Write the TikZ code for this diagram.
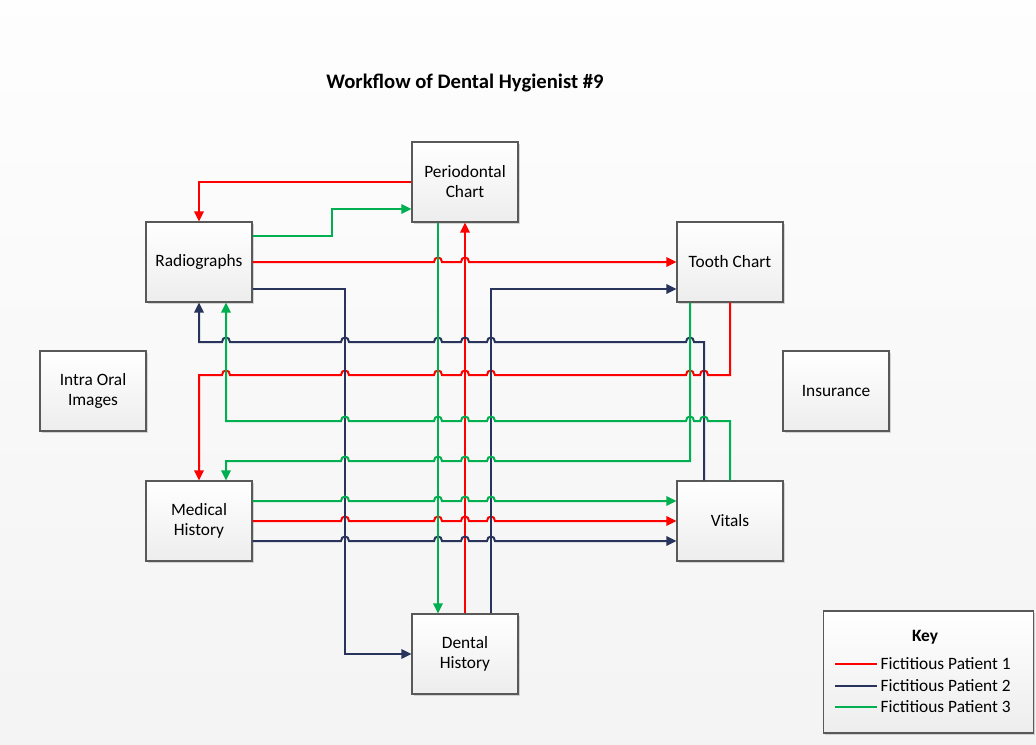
\documentclass[tikz,border=0pt]{standalone}
\usepackage{fontspec}
\setmainfont{Carlito}
\usetikzlibrary{arrows.meta,calc,shadows}
\definecolor{ptred}{RGB}{255,0,0}
\definecolor{ptnavy}{RGB}{40,52,92}
\definecolor{ptgreen}{RGB}{0,176,80}
% line hops over crossing lanes (right- and left-going)
\newcommand{\hopR}[2]{-- (#1-4,#2) .. controls (#1-4,#2-6) and (#1+4,#2-6) .. (#1+4,#2)}
\newcommand{\hopL}[2]{-- (#1+4,#2) .. controls (#1+4,#2-6) and (#1-4,#2-6) .. (#1-4,#2)}
\begin{document}
\begin{tikzpicture}[x=0.75pt,y=-0.75pt,
    box/.style={draw=gray!70!black,line width=0.8pt,top color=white,bottom color=gray!14,
      minimum width=79.5pt,minimum height=60pt,align=center,inner sep=1pt,
      font=\fontsize{13}{15}\selectfont,
      drop shadow={shadow xshift=1.2pt,shadow yshift=-1.2pt,opacity=0.3,fill=gray}},
    keytext/.style={right,inner sep=2pt,text=black,font=\fontsize{13}{15}\selectfont},
    p1/.style={ptred,line width=1.5pt},
    p2/.style={ptnavy,line width=1.5pt},
    p3/.style={ptgreen,line width=1.5pt},
    arr/.style={-{Triangle[length=7.5pt,width=7pt]}}]
  \useasboundingbox (0,0) rectangle (1036,744);
  \shade[top color=gray!1,bottom color=gray!9] (0,0) rectangle (1036,744);

  \node[font=\bfseries\fontsize{15.5}{18}\selectfont] (title) at (465,83) {Workflow of Dental Hygienist \#9};

  \node[box] (perio) at (465,182) {Periodontal\\Chart};
  \node[box] (radio) at (199,262) {Radiographs};
  \node[box] (tooth) at (730,262) {Tooth Chart};
  \node[box] (intra) at (93,391) {Intra Oral\\Images};
  \node[box] (insur) at (836,391) {Insurance};
  \node[box] (medic) at (199,521) {Medical\\History};
  \node[box] (vital) at (730,521) {Vitals};
  \node[box] (dental) at (465,654) {Dental\\History};

  % patient 1
  \draw[p1,arr] (perio.west) -| (radio.north);
  \draw[p1,arr] (radio.east) \hopR{438}{262} \hopR{465}{262} -- (tooth.west);
  \draw[p1,arr] (tooth.south) -- (730,375) \hopL{704}{375} \hopL{690}{375} \hopL{491}{375}
    \hopL{465}{375} \hopL{438}{375} \hopL{345}{375} \hopL{226}{375} -| (medic.north);
  \draw[p1,arr] (medic.east) \hopR{345}{521} \hopR{438}{521} \hopR{465}{521} \hopR{491}{521} -- (vital.west);
  \draw[p1,arr] (dental.north) -- (perio.south);

  % patient 2
  \draw[p2,arr] ($(radio.east)+(0,27)$) -- (345,289) |- (dental.west);
  \draw[p2,arr] ($(dental.north)+(26,0)$) |- ($(tooth.west)+(0,27)$);
  \draw[p2,arr] ($(vital.north)+(-26,0)$) -- (704,342) \hopL{690}{342} \hopL{491}{342} \hopL{465}{342}
    \hopL{438}{342} \hopL{345}{342} \hopL{226}{342} -| (radio.south);
  \draw[p2,arr] ($(medic.east)+(0,20)$) \hopR{345}{541} \hopR{438}{541} \hopR{465}{541} \hopR{491}{541}
    -- ($(vital.west)+(0,20)$);

  % patient 3
  \draw[p3,arr] ($(radio.east)+(0,-26)$) -- (332,236) |- ($(perio.west)+(0,27)$);
  \draw[p3,arr] ($(perio.south)+(-27,0)$) -- ($(dental.north)+(-27,0)$);
  \draw[p3,arr] ($(tooth.south)+(-40,0)$) -- (690,461) \hopL{491}{461} \hopL{465}{461} \hopL{438}{461}
    \hopL{345}{461} -| ($(medic.north)+(27,0)$);
  \draw[p3,arr] (vital.north) -- (730,421) \hopL{704}{421} \hopL{690}{421} \hopL{491}{421} \hopL{465}{421}
    \hopL{438}{421} \hopL{345}{421} -| ($(radio.south)+(27,0)$);
  \draw[p3,arr] ($(medic.east)+(0,-20)$) \hopR{345}{501} \hopR{438}{501} \hopR{465}{501} \hopR{491}{501}
    -- ($(vital.west)+(0,-20)$);

  % key
  \node[box,minimum width=158pt,minimum height=91.5pt] (key) at (928.5,672) {};
  \node[font=\bfseries\fontsize{13}{15}\selectfont] (keyt) at (925,637) {Key};
  \draw[p1] (835,664) -- (877,664) node[keytext] (k1) {Fictitious Patient 1};
  \draw[p2] (835,686) -- (877,686) node[keytext] (k2) {Fictitious Patient 2};
  \draw[p3] (835,707) -- (877,707) node[keytext] (k3) {Fictitious Patient 3};
\end{tikzpicture}
\end{document}
